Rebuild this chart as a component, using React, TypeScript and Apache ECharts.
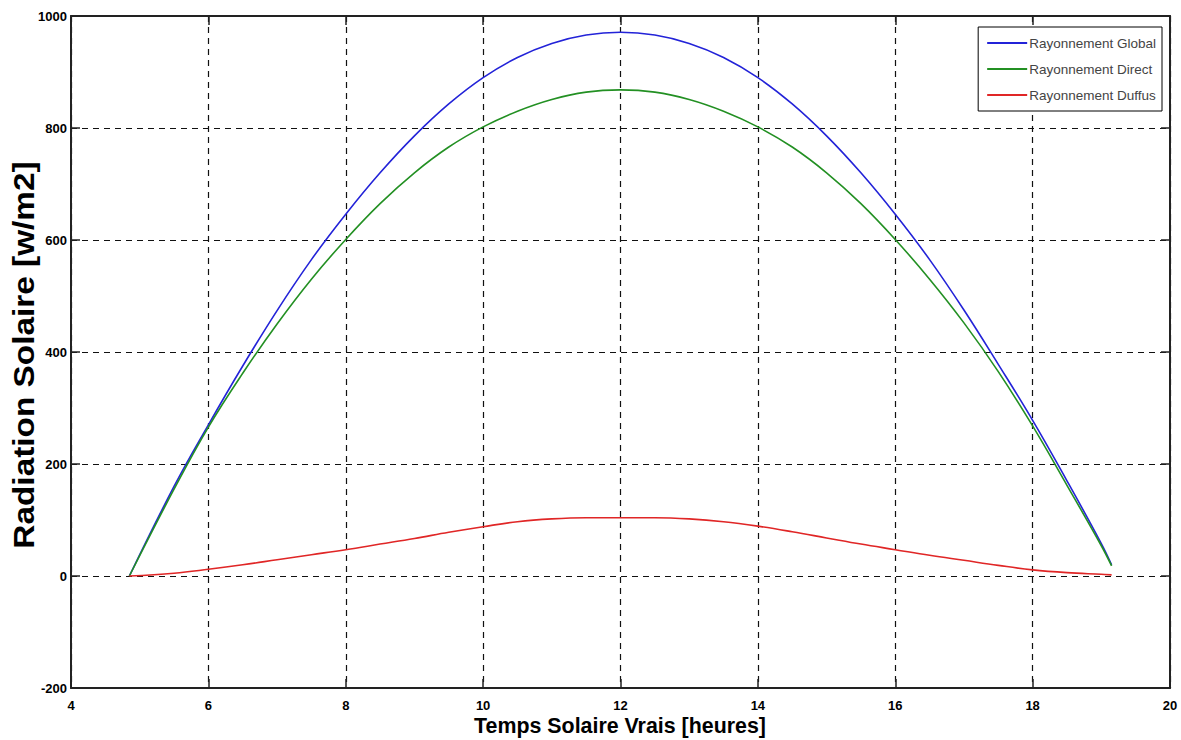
import React, { useEffect, useRef } from "react";
import * as echarts from "echarts";

const hours = [4.85, 5.5, 6, 6.5, 7, 7.5, 8, 8.5, 9, 9.5, 10, 10.5, 11, 11.5, 12, 12.5, 13, 13.5, 14, 14.5, 15, 15.5, 16, 16.5, 17, 17.5, 18, 18.5, 19, 19.15];
const globalRad = [0, 160, 270, 375, 474, 565, 646, 720, 786, 843, 890, 926, 951, 966, 971, 966, 951, 926, 890, 843, 786, 720, 646, 565, 475, 378, 278, 170, 58, 20];
const directRad = [0, 155, 266, 362, 450, 530, 601, 665, 720, 766, 802, 830, 851, 864, 868, 864, 851, 830, 802, 766, 720, 665, 601, 530, 452, 365, 268, 162, 54, 18];
const diffusRad = [0, 5, 12, 20, 29, 38, 47, 57, 67, 78, 88, 97, 102, 104, 104, 104, 102, 97, 89, 79, 68, 57, 47, 37, 28, 19, 11, 6, 3, 2];

const seriesNames = ["Rayonnement Global", "Rayonnement Direct", "Rayonnement Duffus"];
const seriesColors = ["#2323d8", "#239023", "#e02626"];

const xTitle = "Temps Solaire Vrais [heures]";
const yTitle = "Radiation Solaire [w/m2]";

export default function App() {
  const ref = useRef<HTMLDivElement>(null);
  useEffect(() => {
    if (!ref.current) return;
    const chart = echarts.init(ref.current, undefined, { renderer: "svg" });
    const values = [globalRad, directRad, diffusRad];
    const axisLine = { show: true, onZero: false, lineStyle: { color: "#222", width: 2 } };
    const tick = { show: true, inside: true, length: 9, lineStyle: { color: "#222", width: 1.5 } };
    const labelStyle = {
      color: "#000",
      fontWeight: "bold" as const,
      fontSize: 13,
      fontFamily: "Liberation Sans",
      formatter: (v: number) => String(v),
    };
    const gridLine = { show: true, lineStyle: { color: "#111", width: 1.2, type: [6, 5] as any } };
    chart.setOption({
      animation: false,
      backgroundColor: "#fff",
      grid: { left: 71, right: 11, top: 16, bottom: 52, containLabel: false, outerBoundsMode: "none" },
      legend: {
        orient: "vertical",
        right: 19,
        top: 27,
        padding: [9, 6, 9, 9],
        itemGap: 12,
        itemWidth: 40,
        itemHeight: 2,
        icon: "rect",
        backgroundColor: "#fff",
        borderColor: "#000",
        borderWidth: 1,
        borderRadius: 0,
        textStyle: { color: "#444", fontSize: 13.5, fontFamily: "Liberation Sans", padding: [0, 0, 0, -3] },
        data: seriesNames,
      },
      graphic: [
        {
          type: "text",
          x: 620,
          y: 725,
          scaleX: 0.93,
          style: {
            text: xTitle,
            font: 'bold 23px "Liberation Sans"',
            fill: "#000",
            textAlign: "center",
            textVerticalAlign: "middle",
          },
        },
        {
          type: "text",
          x: 24,
          y: 355,
          rotation: Math.PI / 2,
          scaleX: 1.15,
          style: {
            text: yTitle,
            font: 'bold 29px "Liberation Sans"',
            fill: "#000",
            textAlign: "center",
            textVerticalAlign: "middle",
          },
        },
      ],
      xAxis: [
        {
          type: "value",
          min: 4,
          max: 20,
          interval: 2,
          position: "bottom",
          axisLine,
          axisTick: tick,
          axisLabel: { ...labelStyle, margin: 11 },
          splitLine: gridLine,
        },
        {
          type: "value",
          min: 4,
          max: 20,
          interval: 2,
          position: "top",
          axisLine,
          axisTick: tick,
          axisLabel: { show: false },
          splitLine: { show: false },
        },
      ],
      yAxis: [
        {
          type: "value",
          min: -200,
          max: 1000,
          interval: 200,
          position: "left",
          axisLine,
          axisTick: tick,
          axisLabel: { ...labelStyle, margin: 4 },
          splitLine: gridLine,
        },
        {
          type: "value",
          min: -200,
          max: 1000,
          interval: 200,
          position: "right",
          axisLine,
          axisTick: tick,
          axisLabel: { show: false },
          splitLine: { show: false },
        },
      ],
      series: seriesNames.map((name, i) => ({
        name,
        type: "line",
        xAxisIndex: 0,
        yAxisIndex: 0,
        showSymbol: false,
        symbol: "none",
        smooth: 0.4,
        color: seriesColors[i],
        lineStyle: { color: seriesColors[i], width: 1.6 },
        data: hours.map((h, j) => [h, values[i][j]]),
      })),
    });
    return () => chart.dispose();
  }, []);
  return (
    <div
      ref={ref}
      style={{ position: "absolute", left: 0, top: 0, width: 1181, height: 740, background: "#fff" }}
    />
  );
}
